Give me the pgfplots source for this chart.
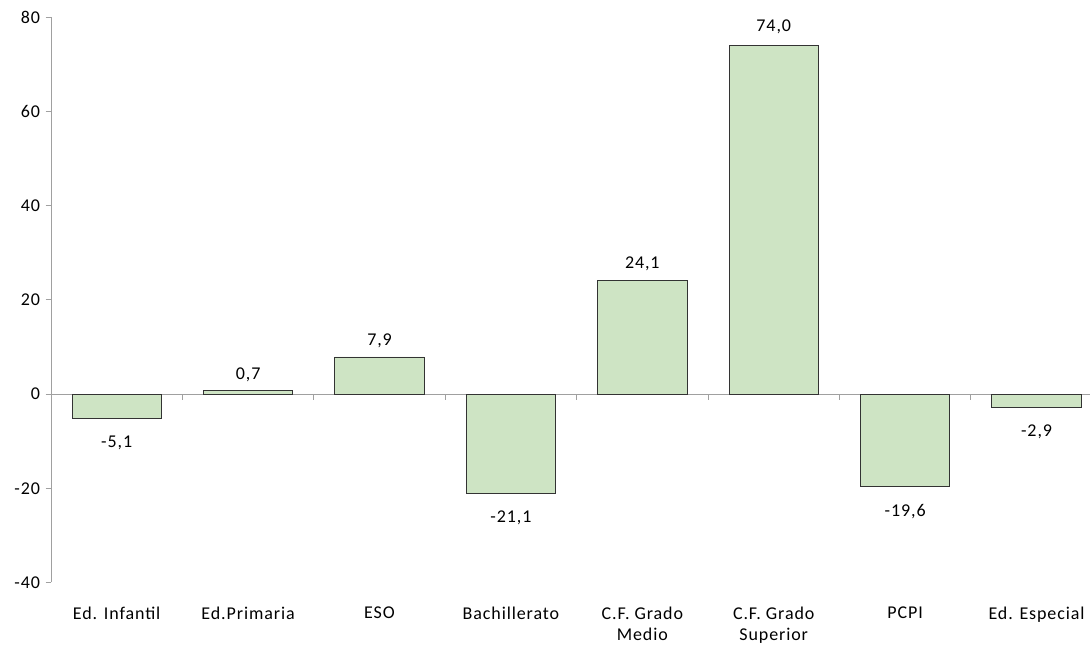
\documentclass[border=0pt]{standalone}
\usepackage{fontspec}
\setmainfont[LetterSpace=5]{Carlito}
\usepackage{pgfplots}
\pgfplotsset{compat=1.18}
\definecolor{barfill}{RGB}{206,228,196}
\definecolor{axgray}{RGB}{160,160,160}
\begin{document}
\begin{tikzpicture}[x=1pt,y=1pt]
\path[use as bounding box] (0,0) rectangle (1090,645);
\begin{axis}[
  at={(51pt,62.5pt)}, anchor=south west,
  scale only axis,
  width=1039pt, height=565pt,
  xmin=-0.5, xmax=7.407,
  ymin=-40, ymax=80,
  ytick={-40,-20,0,20,40,60,80},
  xtick={0,1,2,3,4,5,6,7},
  xticklabels={Ed. Infantil,Ed.Primaria,ESO,Bachillerato,{C.F. Grado\\Medio},{C.F. Grado\\Superior},PCPI,Ed. Especial},
  xticklabel style={align=center, yshift=-15pt, font=\fontsize{18}{21}\selectfont},
  yticklabel style={font=\fontsize{18}{20}\selectfont, xshift=-2pt},
  /pgf/number format/assume math mode=true,
  axis x line*=bottom,
  axis y line*=left,
  x axis line style={draw=none},
  xtick style={draw=none},
  y axis line style={axgray, line width=1pt},
  ytick style={axgray, line width=1pt},
  tick align=outside,
  major tick length=5.5pt,
  ybar,
  bar width=0.68,
  clip=false,
  visualization depends on={y \as \yy},
  nodes near coords={\pgfmathprintnumber[fixed,fixed zerofill,precision=1,use comma,assume math mode=true]{\pgfplotspointmeta}},
  every node near coord/.append style={font=\fontsize{18}{20}\selectfont, inner sep=9pt, black, yshift={(\yy<0)*(-8)+(\yy>50)*(2)}},
]
\draw[axgray, line width=1pt] (axis cs:-0.5,0) -- (axis cs:7.407,0);
\pgfplotsinvokeforeach{0.5,1.5,2.5,3.5,4.5,5.5,6.5}{
  \draw[axgray, line width=1pt] (axis cs:#1,0) -- ++(0pt,-5.5pt);
}
\addplot[fill=barfill, draw=black!80, line width=0.9pt] coordinates {
  (0,-5.1) (1,0.7) (2,7.9) (3,-21.1) (4,24.1) (5,74.0) (6,-19.6) (7,-2.9)
};
\end{axis}
\end{tikzpicture}
\end{document}
